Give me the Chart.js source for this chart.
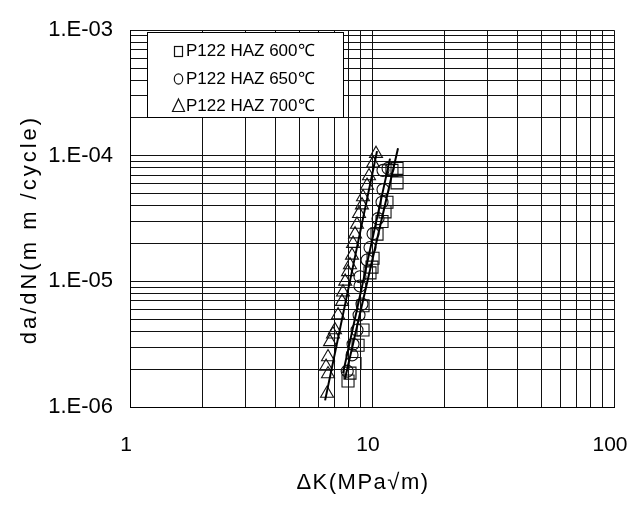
<!DOCTYPE html>
<html>
<head>
<meta charset="utf-8">
<script src="https://cdn.jsdelivr.net/npm/chart.js@4.4.1/dist/chart.umd.min.js"></script>
<style>
html,body{margin:0;padding:0;background:#fff;}
canvas{display:block;}
</style>
</head>
<body>
<canvas id="c" width="630" height="505"></canvas>
<script>
// ---- tick values and labels ----
const xTicks = [1,2,3,4,5,6,7,8,9,10,20,30,40,50,60,70,80,90,100];
const xMajor = [1,10,100];
const xMajorLabels = ['1','10','100'];
const yTicks = [1e-6,2e-6,3e-6,4e-6,5e-6,6e-6,7e-6,8e-6,9e-6,
                1e-5,2e-5,3e-5,4e-5,5e-5,6e-5,7e-5,8e-5,9e-5,
                1e-4,2e-4,3e-4,4e-4,5e-4,6e-4,7e-4,8e-4,9e-4,1e-3];
const yMajor = [1e-6,1e-5,1e-4,1e-3];
const yMajorLabels = ['1.E-06','1.E-05','1.E-04','1.E-03'];

const xTitle = 'ΔK(MPa√m)';
const yTitle = 'da/dN(m m /cycle)';
const seriesNames = ['P122 HAZ 600℃','P122 HAZ 650℃','P122 HAZ 700℃'];

// ---- data: 600 ℃ (squares) ----
const dK600   = [7.96, 8.11, 8.51, 8.76, 9.18, 9.18, 9.81, 10.0, 10.1, 10.49, 11.0, 11.32, 11.53, 12.09, 12.69, 12.69];
const dadN600 = [1.61e-6, 1.86e-6, 2.22e-6, 3.1e-6, 4.1e-6, 6.4e-6, 1.17e-5, 1.3e-5, 1.53e-5, 2.38e-5, 3.0e-5, 3.58e-5, 4.27e-5, 7.66e-5, 7.94e-5, 6.09e-5];
// ---- data: 650 ℃ (circles) ----
const dK650   = [7.9, 8.27, 8.35, 8.67, 8.84, 9.09, 8.92, 8.92, 9.54, 9.81, 10.1, 10.59, 11.0, 11.1, 11.1, 11.65];
const dadN650 = [1.93e-6, 2.6e-6, 3.16e-6, 4.1e-6, 5.4e-6, 6.6e-6, 9.2e-6, 1.09e-5, 1.48e-5, 1.86e-5, 2.4e-5, 3.16e-5, 4.27e-5, 5.38e-5, 7.66e-5, 7.94e-5];
// ---- data: 700 ℃ (triangles) ----
const dK700   = [6.52, 6.58, 6.46, 6.58, 6.71, 6.90, 7.03, 7.24, 7.52, 7.59, 7.75, 7.96, 8.11, 8.27, 8.35, 8.51, 8.67, 8.84, 9.09, 9.18, 9.54, 9.72, 10.10, 10.39];
const dadN700 = [1.28e-6, 1.83e-6, 2.1e-6, 2.5e-6, 3.3e-6, 3.8e-6, 4.1e-6, 5.4e-6, 6.9e-6, 8.2e-6, 1.0e-5, 1.19e-5, 1.35e-5, 1.61e-5, 2.0e-5, 2.38e-5, 2.84e-5, 3.46e-5, 4.05e-5, 4.7e-5, 5.8e-5, 6.9e-5, 8.7e-5, 1.04e-4];

// ---- fitted lines (end points) ----
const fitDK600 = [7.73, 12.81];  const fitDadN600 = [1.67e-6, 1.15e-4];
const fitDK650 = [7.59, 11.87];  const fitDadN650 = [1.86e-6, 9.5e-5];
const fitDK700 = [6.40, 10.49];  const fitDadN700 = [1.13e-6, 1.09e-4];

const toPts = (xs, ys) => xs.map((x, i) => ({x: x, y: ys[i]}));
const labelFor = (v, majors, labels) => {
  for (let i = 0; i < majors.length; i++) {
    if (Math.abs(Math.log10(v / majors[i])) < 1e-6) return labels[i];
  }
  return '';
};

function patchTitle(scale, spacing, dx, dy) {
  if (scale.$patched) return;
  const orig = scale.drawTitle;
  scale.drawTitle = function () {
    const ctx = this.ctx;
    ctx.save();
    ctx.translate(dx, dy);
    ctx.letterSpacing = spacing;
    orig.call(this);
    ctx.restore();
  };
  scale.$patched = true;
}

const FONT = "'Liberation Sans', Arial, sans-serif";
const markerColor = '#111';

const boxLegend = {
  id: 'boxLegend',
  afterDatasetsDraw(chart) {
    const ctx = chart.ctx;
    ctx.save();
    ctx.fillStyle = '#fff';
    ctx.strokeStyle = '#000';
    ctx.lineWidth = 1;
    ctx.fillRect(147.5, 32.5, 196, 85);
    ctx.strokeRect(147.5, 32.5, 196, 85);
    const rows = [51, 79, 106];
    ctx.strokeStyle = '#111';
    ctx.lineWidth = 1.2;
    // square
    ctx.strokeRect(174.5, 46.5, 8, 10);
    // circle
    ctx.beginPath();
    ctx.ellipse(178.5, rows[1], 4.2, 5.2, 0, 0, Math.PI * 2);
    ctx.stroke();
    // triangle
    ctx.beginPath();
    ctx.moveTo(178.5, rows[2] - 7);
    ctx.lineTo(184.5, rows[2] + 5.5);
    ctx.lineTo(172.5, rows[2] + 5.5);
    ctx.closePath();
    ctx.stroke();
    ctx.fillStyle = '#000';
    ctx.font = '17px ' + FONT;
    ctx.textBaseline = 'middle';
    ctx.textAlign = 'left';
    for (let i = 0; i < seriesNames.length; i++) {
      ctx.fillText(seriesNames[i], 186, rows[i]);
    }
    ctx.restore();
  }
};

const lineDs = (xs, ys) => ({
  data: toPts(xs, ys), showLine: true, borderColor: '#000', borderWidth: 2,
  pointRadius: 0, fill: false, order: 0
});
const markDs = (label, xs, ys, style, r) => ({
  label: label, data: toPts(xs, ys), showLine: false, pointStyle: style, pointRadius: r,
  borderColor: markerColor, borderWidth: 1.1, backgroundColor: 'rgba(0,0,0,0)', order: 1
});

new Chart(document.getElementById('c'), {
  type: 'scatter',
  data: {
    datasets: [
      lineDs(fitDK600, fitDadN600),
      lineDs(fitDK650, fitDadN650),
      lineDs(fitDK700, fitDadN700),
      markDs(seriesNames[0], dK600, dadN600, 'rect', 8.5),
      markDs(seriesNames[1], dK650, dadN650, 'circle', 6),
      markDs(seriesNames[2], dK700, dadN700, 'triangle', 7.5)
    ]
  },
  options: {
    responsive: false,
    animation: false,
    events: [],
    layout: { padding: { left: 0, right: 16, top: 17, bottom: 0 } },
    plugins: { legend: { display: false }, tooltip: { enabled: false } },
    scales: {
      x: {
        type: 'logarithmic', min: 1, max: 100,
        afterBuildTicks: (s) => { s.ticks = xTicks.map(v => ({ value: v })); },
        afterFit: (s) => { s.height = 98; s.paddingLeft = 0; s.paddingRight = 0; patchTitle(s, '1.5px', -9, 0); },
        ticks: {
          autoSkip: false, maxRotation: 0, padding: 26, labelOffset: -4,
          color: '#000', font: { family: FONT, size: 21 },
          callback: (v) => labelFor(v, xMajor, xMajorLabels)
        },
        grid: { color: '#111', lineWidth: 1, drawTicks: false },
        border: { display: true, color: '#000', width: 1 },
        title: { display: true, text: xTitle, color: '#000', font: { family: FONT, size: 22 }, padding: { top: 0, bottom: 9 } }
      },
      y: {
        type: 'logarithmic', min: 1e-6, max: 1e-3,
        afterBuildTicks: (s) => { s.ticks = yTicks.map(v => ({ value: v })); },
        afterFit: (s) => { s.width = 130; patchTitle(s, '3px', 0, 11); },
        ticks: {
          autoSkip: false, padding: 17,
          color: '#000', font: { family: FONT, size: 22 },
          callback: (v) => labelFor(v, yMajor, yMajorLabels)
        },
        grid: { color: '#111', lineWidth: 1, drawTicks: false },
        border: { display: true, color: '#000', width: 1 },
        title: { display: true, text: yTitle, color: '#000', font: { family: FONT, size: 22 }, padding: { top: 17, bottom: 0 } }
      }
    }
  },
  plugins: [boxLegend]
});
</script>
</body>
</html>
